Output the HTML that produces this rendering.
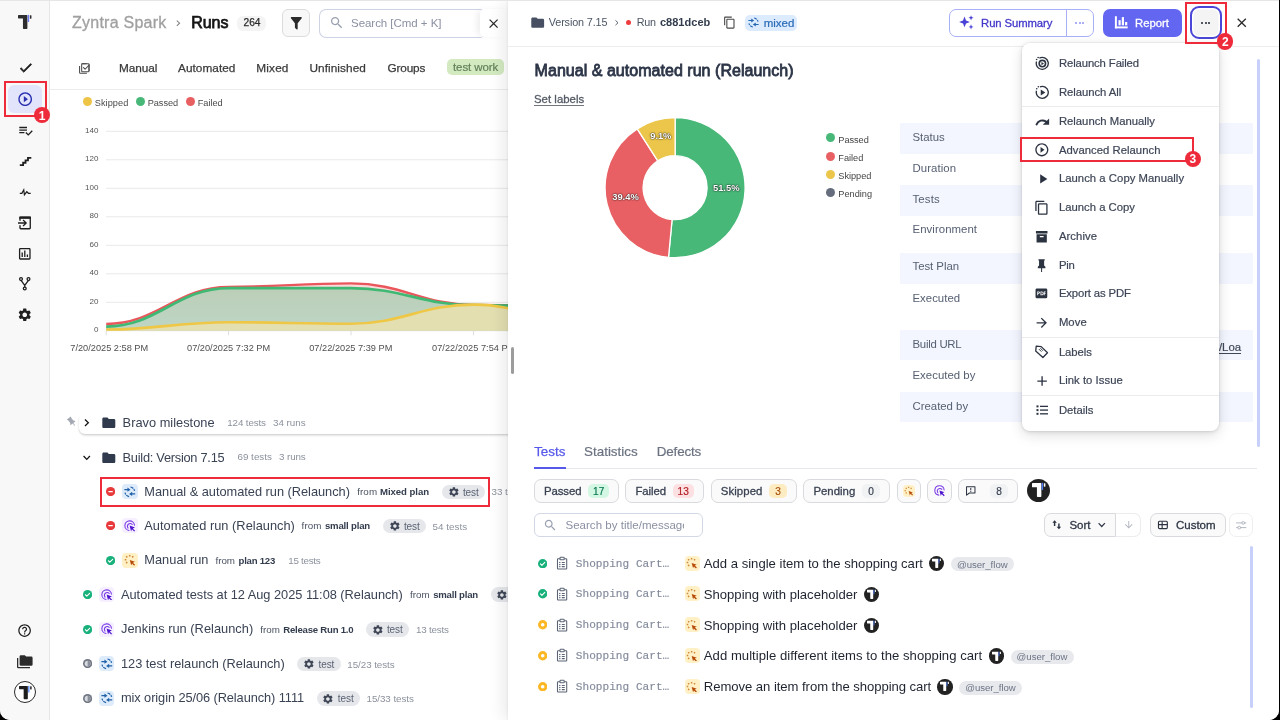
<!DOCTYPE html><html><head><meta charset="utf-8"><title>Runs</title><style>

*{box-sizing:border-box;margin:0;padding:0}
html,body{width:1280px;height:720px;overflow:hidden;background:#000}
body{font-family:"Liberation Sans",sans-serif;position:relative}
#app{position:absolute;left:0;top:0;width:1279px;height:720px;background:#fff;overflow:hidden;border-radius:0 0 10px 10px;will-change:transform}
#app div,#app svg,#app span.t{position:absolute}
span.t{white-space:pre;line-height:20px;height:20px}
.m{font-family:"Liberation Mono",monospace}
b{font-weight:700}

</style></head><body><div id="app">
<div style="left:0px;top:0px;width:50px;height:720px;background:#f8f8f8;border-right:1px solid #e6e6e6"></div>
<svg style="left:18.1px;top:13.7px" width="16.0" height="16.0" viewBox="0 -1 16 16"><path fill="#2e2e2e" d="M0.700 0h8.100a0.600 0.600 0 0 1 0.600 0.600V13.300a0.750 0.750 0 0 1-0.750 0.750H5.700a0.750 0.750 0 0 1-0.750-0.750V3.5H0.700a0.700 0.700 0 0 1-0.700-0.700V0.700a0.700 0.700 0 0 1 0.700-0.700z"/><rect x="9.750" y="-0.100" width="1.400" height="7.100" fill="#6d7cf5"/><rect x="11.900" y="0.200" width="1.550" height="3.500" rx="0.400" fill="#2e2e2e"/></svg>
<svg style="left:17.65px;top:59.85px" width="15.5" height="15.5" viewBox="0 0 24 24"><path fill="#1f1f1f" stroke="#1f1f1f" stroke-width="1.2" d="M9 16.17L4.83 12l-1.42 1.41L9 19 21 7l-1.41-1.41z"/></svg>
<div style="left:7.5px;top:85px;width:34.0px;height:28px;background:#e1e4fb;border-radius:6px"></div>
<svg style="left:16.8px;top:90.8px" width="16.4" height="16.4" viewBox="0 0 24 24"><path fill="#2a2fb0"  d="M10 16.5l6-4.5-6-4.5v9zM12 2C6.48 2 2 6.48 2 12s4.48 10 10 10 10-4.48 10-10S17.52 2 12 2zm0 18c-4.41 0-8-3.59-8-8s3.59-8 8-8 8 3.59 8 8-3.59 8-8 8z"/></svg>
<svg style="left:17.9px;top:122.5px" width="15.4" height="15.4" viewBox="0 0 24 24"><path fill="#1f1f1f"  d="M14 10H2v2h12v-2zm0-4H2v2h12V6zM2 16h8v-2H2v2zm19.5-4.5L23 13l-6.99 7-4.51-4.5L13 14l3.01 3 5.49-5.5z"/></svg>
<svg style="left:18.15px;top:153.75px" width="14.5" height="14.5" viewBox="0 0 24 24"><path fill="#1f1f1f"  d="M15,5V9H11V13H7V17H3V20H10V16H14V12H18V8H22V5H15Z"/></svg>
<svg style="left:17.75px;top:184.75px" width="14.5" height="14.5" viewBox="0 0 24 24"><path fill="#1f1f1f"  d="M3,13H5.79L10.1,4.79L11.28,13.75L14.5,9.66L17.83,13H21V15H17L14.67,12.67L9.92,18.73L8.94,11.31L7,15H3V13Z"/></svg>
<svg style="left:17.0px;top:214.6px" width="16" height="16" viewBox="0 0 24 24"><path fill="none" stroke="#1f1f1f" stroke-width="2" stroke-linejoin="round" d="M4.5 15.2V19.4a1.2 1.2 0 0 0 1.2 1.2h13a1.2 1.2 0 0 0 1.2-1.2V4.6a1.2 1.2 0 0 0-1.2-1.2h-13a1.2 1.2 0 0 0-1.2 1.2V8.8"/><rect x="3.4" y="2.4" width="17.6" height="3.4" fill="#1f1f1f"/><path fill="#1f1f1f" d="M1.5 11h9.8L8.4 8.1l1.4-1.4 5.3 5.3-5.3 5.3-1.4-1.4 2.9-2.9H1.5z"/></svg>
<svg style="left:17.0px;top:245.6px" width="15.6" height="15.6" viewBox="0 0 24 24"><path fill="#1f1f1f"  d="M9 17H7V10H9V17M13 17H11V7H13V17M17 17H15V13H17V17M19 19H5V5H19V19.1M19 3H5C3.9 3 3 3.9 3 5V19C3 20.1 3.9 21 5 21H19C20.1 21 21 20.1 21 19V5C21 3.9 20.1 3 19 3Z"/></svg>
<svg style="left:17.25px;top:276.25px" width="15.5" height="15.5" viewBox="0 0 24 24"><g fill="none" stroke="#1f1f1f" stroke-width="2"><circle cx="6.2" cy="4.8" r="2.2"/><circle cx="17.8" cy="4.8" r="2.2"/><circle cx="12" cy="19.4" r="2.2"/><path d="M6.6 7l5.4 7.4L17.4 7M12 14.2v3"/></g></svg>
<svg style="left:17.45px;top:307.25px" width="15.5" height="15.5" viewBox="0 0 24 24"><path fill="#1f1f1f"  d="M19.14 12.94c.04-.3.06-.61.06-.94 0-.32-.02-.64-.07-.94l2.03-1.58c.18-.14.23-.41.12-.61l-1.92-3.32c-.12-.22-.37-.29-.59-.22l-2.39.96c-.5-.38-1.03-.7-1.62-.94l-.36-2.54c-.04-.24-.24-.41-.48-.41h-3.84c-.24 0-.43.17-.47.41l-.36 2.54c-.59.24-1.13.57-1.62.94l-2.39-.96c-.22-.08-.47 0-.59.22L2.74 8.87c-.12.21-.08.47.12.61l2.03 1.58c-.05.3-.09.63-.09.94s.02.64.07.94l-2.03 1.58c-.18.14-.23.41-.12.61l1.92 3.32c.12.22.37.29.59.22l2.39-.96c.5.38 1.03.7 1.62.94l.36 2.54c.05.24.24.41.48.41h3.84c.24 0 .44-.17.47-.41l.36-2.54c.59-.24 1.13-.56 1.62-.94l2.39.96c.22.08.47 0 .59-.22l1.92-3.32c.12-.22.07-.47-.12-.61l-2.01-1.58zM12 15.6c-1.98 0-3.6-1.62-3.6-3.6s1.62-3.6 3.6-3.6 3.6 1.62 3.6 3.6-1.62 3.6-3.6 3.6z"/></svg>
<svg style="left:17.2px;top:622.8px" width="15.2" height="15.2" viewBox="0 0 24 24"><path fill="#1f1f1f"  d="M11 18h2v-2h-2v2zm1-16C6.48 2 2 6.48 2 12s4.48 10 10 10 10-4.48 10-10S17.52 2 12 2zm0 18c-4.41 0-8-3.59-8-8s3.59-8 8-8 8 3.59 8 8-3.59 8-8 8zm0-14c-2.21 0-4 1.79-4 4h2c0-1.1.9-2 2-2s2 .9 2 2c0 2-3 1.75-3 5h2c0-2.25 3-2.5 3-5 0-2.21-1.79-4-4-4z"/></svg>
<svg style="left:17.4px;top:653.6px" width="15.6" height="15.6" viewBox="0 0 24 24"><path fill="#2b2b2b"  d="M22,4H14L12,2H6A2,2 0 0,0 4,4V16A2,2 0 0,0 6,18H22A2,2 0 0,0 24,16V6A2,2 0 0,0 22,4M2,6H0V11H0V20A2,2 0 0,0 2,22H20V20H2V6Z"/></svg>
<div style="left:14px;top:681.3px;width:22.1px;height:22.100000000000023px;border:1.4px solid #2a2a2a;border-radius:50%;background:#fff"></div>
<svg style="left:18.85px;top:685.36px" width="15.04" height="15.04" viewBox="0 -1 16 16"><path fill="#1d1d1d" d="M0.700 0h8.100a0.600 0.600 0 0 1 0.600 0.600V13.300a0.750 0.750 0 0 1-0.750 0.750H5.700a0.750 0.750 0 0 1-0.750-0.750V3.5H0.700a0.700 0.700 0 0 1-0.700-0.700V0.700a0.700 0.700 0 0 1 0.700-0.700z"/><rect x="9.750" y="-0.100" width="1.400" height="7.100" fill="#5b8bf7"/><rect x="11.900" y="0.200" width="1.550" height="3.500" rx="0.400" fill="#1d1d1d"/></svg>
<span class="t" style="left:72px;top:13px;font-size:16px;color:#a0a0a0;letter-spacing:0.242px;-webkit-text-stroke:0.3px #a0a0a0;">Zyntra Spark</span>
<svg style="left:174.0px;top:19.4px" width="8.4" height="8.4" viewBox="0 0 24 24"><path d="M8 4.5l8 7.5-8 7.5" fill="none" stroke="#7f7f7f" stroke-width="2.9"/></svg>
<span class="t" style="left:191.3px;top:13px;font-size:16px;color:#161616;letter-spacing:-0.090px;-webkit-text-stroke:0.75px #161616;">Runs</span>
<div style="left:237px;top:15.5px;width:29.399999999999977px;height:15.3px;background:#f4f4f4;border-radius:6px"></div>
<span class="t" style="left:243.6px;top:13px;font-size:10.2px;color:#2b2b2b;letter-spacing:-0.133px;-webkit-text-stroke:0.25px #2b2b2b;">264</span>
<div style="left:282.3px;top:9.2px;width:27.399999999999977px;height:27.400000000000002px;background:#f8f8f8;border:1px solid #dcdcdc;border-radius:6px"></div>
<svg style="left:287.7px;top:14.9px" width="16.6" height="16.6" viewBox="0 0 24 24"><path fill="#2a2a2a"  d="M14,12V19.88C14.04,20.18 13.94,20.5 13.71,20.71C13.32,21.1 12.69,21.1 12.3,20.71L10.29,18.7C10.06,18.47 9.96,18.16 10,17.87V12H9.97L4.21,4.62C3.87,4.19 3.95,3.56 4.38,3.22C4.57,3.08 4.78,3 5,3V3H19V3C19.22,3 19.43,3.08 19.62,3.22C20.05,3.56 20.13,4.19 19.79,4.62L14.03,12H14Z"/></svg>
<div style="left:319.2px;top:8.7px;width:164.2px;height:29.099999999999998px;border:1px solid #cdd3e3;border-right:none;border-radius:7px 3px 3px 7px;background:#fff"></div>
<svg style="left:328.5px;top:15.3px" width="15.4" height="15.4" viewBox="0 0 24 24"><path fill="#9aa0b1"  d="M15.5 14h-.79l-.28-.27C15.41 12.59 16 11.11 16 9.5 16 5.91 13.09 3 9.5 3S3 5.91 3 9.5 5.91 16 9.5 16c1.61 0 3.09-.59 4.23-1.57l.27.28v.79l5 4.99L20.49 19l-4.99-5zm-6 0C7.01 14 5 11.99 5 9.5S7.01 5 9.5 5 14 7.01 14 9.5 11.99 14 9.5 14z"/></svg>
<span class="t" style="left:351px;top:13px;font-size:11.5px;color:#8b90a2;letter-spacing:-0.037px;">Search [Cmd + K]</span>
<div style="left:480px;top:9px;width:30px;height:28.4px;background:#fff;border-radius:5px;box-shadow:-5px 0 6px -2px rgba(0,0,0,.07)"></div>
<svg style="left:486.0px;top:15.5px" width="15.2" height="15.2" viewBox="0 0 24 24"><path fill="#2b2b2b"  d="M19 6.41L17.59 5 12 10.59 6.41 5 5 6.41 10.59 12 5 17.59 6.41 19 12 13.41 17.59 19 19 17.59 13.41 12z"/></svg>
<svg style="left:77.5px;top:61.5px" width="12.6" height="12.6" viewBox="0 0 24 24"><g fill="none" stroke="#4a4a4a" stroke-width="2" stroke-linejoin="round"><path d="M7 3.5h12.5a1.5 1.5 0 0 1 1.5 1.5V17"/><path d="M21 6v11a1.5 1.5 0 0 1-1.5 1.5H8.5A1.5 1.5 0 0 1 7 17V5a1.5 1.5 0 0 1 1.5-1.5H16" /><path d="M3 7.5V20a1.5 1.5 0 0 0 1.500 1.500H17"/><path d="M10.500 10.800l3 3L21.500 5.500" stroke-linecap="round"/></g></svg>
<span class="t" style="left:119px;top:58px;font-size:11.8px;color:#3a3a3a;letter-spacing:-0.051px;-webkit-text-stroke:0.25px #3a3a3a;">Manual</span>
<span class="t" style="left:178px;top:58px;font-size:11.8px;color:#3a3a3a;letter-spacing:0.038px;-webkit-text-stroke:0.25px #3a3a3a;">Automated</span>
<span class="t" style="left:256.3px;top:58px;font-size:11.8px;color:#3a3a3a;letter-spacing:0.166px;-webkit-text-stroke:0.25px #3a3a3a;">Mixed</span>
<span class="t" style="left:309.4px;top:58px;font-size:11.8px;color:#3a3a3a;letter-spacing:0.085px;-webkit-text-stroke:0.25px #3a3a3a;">Unfinished</span>
<span class="t" style="left:387.5px;top:58px;font-size:11.8px;color:#3a3a3a;letter-spacing:-0.165px;-webkit-text-stroke:0.25px #3a3a3a;">Groups</span>
<div style="left:447.2px;top:59.4px;width:57.0px;height:16.000000000000007px;background:#d3eac1;border-radius:5px"></div>
<span class="t" style="left:453px;top:57px;font-size:11.5px;color:#63805a;letter-spacing:-0.080px;-webkit-text-stroke:0.2px #63805a;">test work</span>
<div style="left:50px;top:89px;width:458px;height:1px;background:#ececec"></div>
<svg style="left:0;top:0" width="508" height="400" viewBox="0 0 508 400"><defs><linearGradient id="gg" x1="0" y1="0" x2="0" y2="1"><stop offset="0" stop-color="#bbceb7"/><stop offset="1" stop-color="#bed6c6"/></linearGradient></defs><line x1="106" x2="520" y1="330.8" y2="330.8" stroke="#e9e9e9" stroke-width="1"/><line x1="106" x2="520" y1="302.3" y2="302.3" stroke="#e9e9e9" stroke-width="1"/><line x1="106" x2="520" y1="273.8" y2="273.8" stroke="#e9e9e9" stroke-width="1"/><line x1="106" x2="520" y1="245.3" y2="245.3" stroke="#e9e9e9" stroke-width="1"/><line x1="106" x2="520" y1="216.8" y2="216.8" stroke="#e9e9e9" stroke-width="1"/><line x1="106" x2="520" y1="188.3" y2="188.3" stroke="#e9e9e9" stroke-width="1"/><line x1="106" x2="520" y1="159.8" y2="159.8" stroke="#e9e9e9" stroke-width="1"/><line x1="106" x2="520" y1="131.3" y2="131.3" stroke="#e9e9e9" stroke-width="1"/><line x1="106.2" x2="106.2" y1="330.8" y2="335.3" stroke="#dedede" stroke-width="1"/><line x1="228.5" x2="228.5" y1="330.8" y2="335.3" stroke="#dedede" stroke-width="1"/><line x1="351" x2="351" y1="330.8" y2="335.3" stroke="#dedede" stroke-width="1"/><line x1="473.5" x2="473.5" y1="330.8" y2="335.3" stroke="#dedede" stroke-width="1"/><path d="M106.2 323.96 C157.6 323.96 177.1 286.91 228.5 286.91 C279.9 286.91 299.6 283.35 351 283.35 C402.4 283.35 422.1 304.87 473.5 304.87 C525.0 304.87 544.5 306.57 596 306.57 L596 330.8 L106.2 330.8 Z" fill="rgba(233,87,92,0.22)"/><path d="M106.2 323.96 C157.6 323.96 177.1 286.91 228.5 286.91 C279.9 286.91 299.6 283.35 351 283.35 C402.4 283.35 422.1 304.87 473.5 304.87 C525.0 304.87 544.5 306.57 596 306.57" fill="none" stroke="#e9575c" stroke-width="2.4" stroke-linecap="butt"/><path d="M106.2 326.53 C157.6 326.53 177.1 288.05 228.5 288.05 C279.9 288.05 299.6 288.05 351 288.05 C402.4 288.05 422.1 305.15 473.5 305.15 C525.0 305.15 544.5 307.29 596 307.29 L596 330.8 L106.2 330.8 Z" fill="url(#gg)"/><path d="M106.2 326.53 C157.6 326.53 177.1 288.05 228.5 288.05 C279.9 288.05 299.6 288.05 351 288.05 C402.4 288.05 422.1 305.15 473.5 305.15 C525.0 305.15 544.5 307.29 596 307.29" fill="none" stroke="#3fb873" stroke-width="2.7" stroke-linecap="butt"/><path d="M106.2 329.52 C157.6 329.52 177.1 322.25 228.5 322.25 C279.9 322.25 299.6 323.68 351 323.68 C402.4 323.68 422.1 304.58 473.5 304.58 C525.0 304.58 544.5 326.53 596 326.53 L596 330.8 L106.2 330.8 Z" fill="#e4dfb1"/><path d="M106.2 329.52 C157.6 329.52 177.1 322.25 228.5 322.25 C279.9 322.25 299.6 323.68 351 323.68 C402.4 323.68 422.1 304.58 473.5 304.58 C525.0 304.58 544.5 326.53 596 326.53" fill="none" stroke="#efc746" stroke-width="2.6" stroke-linecap="butt"/></svg>
<div style="left:82.8px;top:96.9px;width:9.400000000000006px;height:9.399999999999991px;background:#eec447;border-radius:50%"></div>
<span class="t" style="left:94.8px;top:93px;font-size:9.2px;color:#4a4a4a;letter-spacing:0.042px;">Skipped</span>
<div style="left:135.60000000000002px;top:96.9px;width:9.399999999999977px;height:9.399999999999991px;background:#48b878;border-radius:50%"></div>
<span class="t" style="left:147.7px;top:93px;font-size:9.2px;color:#4a4a4a;letter-spacing:-0.026px;">Passed</span>
<div style="left:185.9px;top:96.9px;width:9.399999999999977px;height:9.399999999999991px;background:#e85f62;border-radius:50%"></div>
<span class="t" style="left:197.8px;top:93px;font-size:9.2px;color:#4a4a4a;letter-spacing:-0.039px;">Failed</span>
<span class="t" style="left:93.95px;top:320px;font-size:8.0px;color:#555;letter-spacing:-0.003px;">0</span>
<span class="t" style="left:89.5px;top:292px;font-size:8.0px;color:#555;letter-spacing:-0.003px;">20</span>
<span class="t" style="left:89.5px;top:263px;font-size:8.0px;color:#555;letter-spacing:-0.003px;">40</span>
<span class="t" style="left:89.5px;top:235px;font-size:8.0px;color:#555;letter-spacing:-0.003px;">60</span>
<span class="t" style="left:89.5px;top:206px;font-size:8.0px;color:#555;letter-spacing:-0.003px;">80</span>
<span class="t" style="left:85.05px;top:178px;font-size:8.0px;color:#555;letter-spacing:-0.003px;">100</span>
<span class="t" style="left:85.05px;top:149px;font-size:8.0px;color:#555;letter-spacing:-0.003px;">120</span>
<span class="t" style="left:85.05px;top:121px;font-size:8.0px;color:#555;letter-spacing:-0.003px;">140</span>
<span class="t" style="left:70.3px;top:338px;font-size:9.2px;color:#4f4f4f;letter-spacing:0.014px;">7/20/2025 2:58 PM</span>
<span class="t" style="left:187px;top:338px;font-size:9.2px;color:#4f4f4f;letter-spacing:0.024px;">07/20/2025 7:32 PM</span>
<span class="t" style="left:309.2px;top:338px;font-size:9.2px;color:#4f4f4f;letter-spacing:0.024px;">07/22/2025 7:39 PM</span>
<span class="t" style="left:432px;top:338px;font-size:9.2px;color:#4f4f4f;letter-spacing:0.035px;">07/22/2025 7:54 PM</span>
<div style="left:79px;top:412.5px;width:441px;height:21.5px;background:#fff;border-radius:6px 0 0 6px;box-shadow:0 2px 3px -1px rgba(0,0,0,.20),-1px 1px 2px -1px rgba(0,0,0,.12)"></div>
<svg style="left:66.2px;top:416.2px" width="11.6" height="11.6" viewBox="0 0 24 24"><path fill="#a3a8b3" transform="rotate(-38 12 12)" d="M16,12V4H17V2H7V4H8V12L6,14V16H11.2V22H12.8V16H18V14L16,12Z"/></svg>
<svg style="left:82.25px;top:418.45px" width="9.5" height="9.5" viewBox="0 0 24 24"><path d="M7.5 4l8.5 8-8.5 8" fill="none" stroke="#111" stroke-width="3.2"/></svg>
<svg style="left:100.7px;top:415.2px" width="15.6" height="15.6" viewBox="0 0 24 24"><path fill="#2f3a4d"  d="M10 4H4c-1.1 0-1.99.9-1.99 2L2 18c0 1.1.9 2 2 2h16c1.1 0 2-.9 2-2V8c0-1.1-.9-2-2-2h-8l-2-2z"/></svg>
<span class="t" style="left:122.6px;top:413px;font-size:12.8px;color:#3a4354;letter-spacing:0.016px;">Bravo milestone</span>
<span class="t" style="left:227.3px;top:413px;font-size:9.8px;color:#8c919d;letter-spacing:-0.141px;">124 tests</span>
<span class="t" style="left:273px;top:413px;font-size:9.8px;color:#8c919d;letter-spacing:-0.012px;">34 runs</span>
<svg style="left:82.25px;top:453.25px" width="9.5" height="9.5" viewBox="0 0 24 24"><path d="M4 7.500l8 8.500 8-8.500" fill="none" stroke="#111" stroke-width="3.2"/></svg>
<svg style="left:100.7px;top:449.6px" width="15.6" height="15.6" viewBox="0 0 24 24"><path fill="#2f3a4d"  d="M10 4H4c-1.1 0-1.99.9-1.99 2L2 18c0 1.1.9 2 2 2h16c1.1 0 2-.9 2-2V8c0-1.1-.9-2-2-2h-8l-2-2z"/></svg>
<span class="t" style="left:122.6px;top:448px;font-size:12.8px;color:#3a4354;letter-spacing:-0.259px;">Build: Version 7.15</span>
<span class="t" style="left:237.4px;top:447px;font-size:9.8px;color:#8c919d;letter-spacing:0.036px;">69 tests</span>
<span class="t" style="left:279.1px;top:447px;font-size:9.8px;color:#8c919d;letter-spacing:-0.122px;">3 runs</span>
<svg style="left:106.2px;top:487.2px" width="9.2" height="9.2" viewBox="0 0 24 24"><circle cx="12" cy="12" r="12" fill="#e8393c"/><rect x="6" y="10.500" width="12" height="3" rx="1" fill="#fff"/></svg>
<div style="left:122.4px;top:484.2px;width:15.199999999999989px;height:15.199999999999989px;background:#deebfb;border-radius:4px"></div>
<svg style="left:124.2px;top:486.0px" width="11.6" height="11.6" viewBox="0 0 24 24"><g fill="none" stroke="#1f62a8" stroke-width="2.5" stroke-dasharray="6.6 1.7"><path d="M13.4 2.1A10 10 0 0 1 21.9 10.2"/><path d="M10.6 21.9A10 10 0 0 1 2.1 13.8"/></g><g fill="#1f62a8"><path d="M0.8 6.3h6.300V3.100l6.300 4.500-6.300 4.500V8.900H0.800z"/><path d="M23.200 15.100h-6.300v-3.200l-6.300 4.500 6.300 4.500v-3.200h6.300z"/></g></svg>
<span class="t" style="left:144.3px;top:482px;font-size:12.8px;color:#3a4354;letter-spacing:-0.021px;">Manual &amp; automated run (Relaunch)</span>
<span class="t" style="left:357.2px;top:482px;font-size:9.8px;color:#4b5362;letter-spacing:0.098px;">from</span>
<span class="t" style="left:380px;top:482px;font-size:9.6px;color:#333c4d;font-weight:700;letter-spacing:-0.058px;">Mixed plan</span>
<div style="left:441.8px;top:484.6px;width:42.89999999999998px;height:14.399999999999977px;background:#e5e7eb;border-radius:8px"></div>
<svg style="left:447.5px;top:485.9px" width="11.8" height="11.8" viewBox="0 0 24 24"><path fill="#3f4757"  d="M19.14 12.94c.04-.3.06-.61.06-.94 0-.32-.02-.64-.07-.94l2.03-1.58c.18-.14.23-.41.12-.61l-1.92-3.32c-.12-.22-.37-.29-.59-.22l-2.39.96c-.5-.38-1.03-.7-1.62-.94l-.36-2.54c-.04-.24-.24-.41-.48-.41h-3.84c-.24 0-.43.17-.47.41l-.36 2.54c-.59.24-1.13.57-1.62.94l-2.39-.96c-.22-.08-.47 0-.59.22L2.74 8.87c-.12.21-.08.47.12.61l2.03 1.58c-.05.3-.09.63-.09.94s.02.64.07.94l-2.03 1.58c-.18.14-.23.41-.12.61l1.92 3.32c.12.22.37.29.59.22l2.39-.96c.5.38 1.03.7 1.62.94l.36 2.54c.05.24.24.41.48.41h3.84c.24 0 .44-.17.47-.41l.36-2.54c.59-.24 1.13-.56 1.62-.94l2.39.96c.22.08.47 0 .59-.22l1.92-3.32c.12-.22.07-.47-.12-.61l-2.01-1.58zM12 15.6c-1.98 0-3.6-1.62-3.6-3.6s1.62-3.6 3.6-3.6 3.6 1.62 3.6 3.6-1.62 3.6-3.6 3.6z"/></svg>
<span class="t" style="left:462.90000000000003px;top:483px;font-size:10px;color:#5a6272;letter-spacing:-0.081px;">test</span>
<span class="t" style="left:491.6px;top:482px;font-size:9.8px;color:#8c919d;letter-spacing:-0.064px;">33 tests</span>
<svg style="left:106.2px;top:521.2px" width="9.2" height="9.2" viewBox="0 0 24 24"><circle cx="12" cy="12" r="12" fill="#e8393c"/><rect x="6" y="10.500" width="12" height="3" rx="1" fill="#fff"/></svg>
<div style="left:122.4px;top:518.2px;width:15.199999999999989px;height:15.199999999999932px;background:#f5efff;border-radius:4px"></div>
<svg style="left:124.1px;top:519.9px" width="11.8" height="11.8" viewBox="0 0 24 24"><g fill="none" stroke="#7a3be6" stroke-width="2.2" stroke-linecap="round"><path d="M10.200 21.300A9.800 9.800 0 1 1 21.300 10.600"/><path d="M8.200 16.400A5.500 5.500 0 1 1 16.600 9.200"/></g><path fill="#4f14cf" d="M11.400 11.400l10.800 4-4.300 1.700 4.600 4.600-1.800 1.800-4.600-4.600-1.700 4.300z"/></svg>
<span class="t" style="left:144.3px;top:516px;font-size:12.8px;color:#3a4354;letter-spacing:0.021px;">Automated run (Relaunch)</span>
<span class="t" style="left:301.6px;top:516px;font-size:9.8px;color:#4b5362;letter-spacing:0.098px;">from</span>
<span class="t" style="left:324.9px;top:516px;font-size:9.6px;color:#333c4d;font-weight:700;letter-spacing:-0.182px;">small plan</span>
<div style="left:382.8px;top:518.8px;width:43.0px;height:14.400000000000091px;background:#e5e7eb;border-radius:8px"></div>
<svg style="left:388.5px;top:520.1px" width="11.8" height="11.8" viewBox="0 0 24 24"><path fill="#3f4757"  d="M19.14 12.94c.04-.3.06-.61.06-.94 0-.32-.02-.64-.07-.94l2.03-1.58c.18-.14.23-.41.12-.61l-1.92-3.32c-.12-.22-.37-.29-.59-.22l-2.39.96c-.5-.38-1.03-.7-1.62-.94l-.36-2.54c-.04-.24-.24-.41-.48-.41h-3.84c-.24 0-.43.17-.47.41l-.36 2.54c-.59.24-1.13.57-1.62.94l-2.39-.96c-.22-.08-.47 0-.59.22L2.74 8.87c-.12.21-.08.47.12.61l2.03 1.58c-.05.3-.09.63-.09.94s.02.64.07.94l-2.03 1.58c-.18.14-.23.41-.12.61l1.92 3.32c.12.22.37.29.59.22l2.39-.96c.5.38 1.03.7 1.62.94l.36 2.54c.05.24.24.41.48.41h3.84c.24 0 .44-.17.47-.41l.36-2.54c.59-.24 1.13-.56 1.62-.94l2.39.96c.22.08.47 0 .59-.22l1.92-3.32c.12-.22.07-.47-.12-.61l-2.01-1.58zM12 15.6c-1.98 0-3.6-1.62-3.6-3.6s1.62-3.6 3.6-3.6 3.6 1.62 3.6 3.6-1.62 3.6-3.6 3.6z"/></svg>
<span class="t" style="left:403.90000000000003px;top:517px;font-size:10px;color:#5a6272;letter-spacing:-0.081px;">test</span>
<span class="t" style="left:432.6px;top:517px;font-size:9.8px;color:#8c919d;letter-spacing:0.023px;">54 tests</span>
<svg style="left:106.2px;top:555.6px" width="9.2" height="9.2" viewBox="0 0 24 24"><circle cx="12" cy="12" r="12" fill="#18b07b"/><path d="M6.3 12.4l3.7 3.7 7.4-7.6" fill="none" stroke="#fff" stroke-width="2.8" stroke-linecap="round" stroke-linejoin="round"/></svg>
<div style="left:122.4px;top:552.6px;width:15.199999999999989px;height:15.199999999999932px;background:#fff0c6;border-radius:4px"></div>
<svg style="left:124.1px;top:554.3px" width="11.8" height="11.8" viewBox="0 0 24 24"><path fill="#b74a06" d="M11.800 12.200l10.400 3.800-4 1.600 4.300 4.300-1.900 1.900-4.300-4.300-1.600 4z"/><g stroke="#cf8a3c" stroke-width="3.100"><path d="M11.600 2v3.200M4.400 4.600l2.300 2.300M18.900 4.600l-2.300 2.300M1.500 11.500h3.200M4.300 18.600l2.300-2.300"/></g></svg>
<span class="t" style="left:144.3px;top:550px;font-size:12.8px;color:#3a4354;letter-spacing:0.017px;">Manual run</span>
<span class="t" style="left:215.5px;top:551px;font-size:9.8px;color:#4b5362;letter-spacing:-0.052px;">from</span>
<span class="t" style="left:238.5px;top:551px;font-size:9.6px;color:#333c4d;font-weight:700;letter-spacing:-0.226px;">plan 123</span>
<span class="t" style="left:288.3px;top:551px;font-size:9.8px;color:#8c919d;letter-spacing:-0.277px;">15 tests</span>
<svg style="left:82.8px;top:589.8px" width="9.2" height="9.2" viewBox="0 0 24 24"><circle cx="12" cy="12" r="12" fill="#18b07b"/><path d="M6.3 12.4l3.7 3.7 7.4-7.6" fill="none" stroke="#fff" stroke-width="2.8" stroke-linecap="round" stroke-linejoin="round"/></svg>
<div style="left:99.2px;top:586.8px;width:15.200000000000003px;height:15.200000000000045px;background:#f5efff;border-radius:4px"></div>
<svg style="left:100.9px;top:588.5px" width="11.8" height="11.8" viewBox="0 0 24 24"><g fill="none" stroke="#7a3be6" stroke-width="2.2" stroke-linecap="round"><path d="M10.200 21.300A9.800 9.800 0 1 1 21.300 10.600"/><path d="M8.200 16.400A5.500 5.500 0 1 1 16.600 9.200"/></g><path fill="#4f14cf" d="M11.400 11.400l10.800 4-4.300 1.700 4.600 4.600-1.800 1.800-4.600-4.600-1.700 4.300z"/></svg>
<span class="t" style="left:121px;top:585px;font-size:12.8px;color:#3a4354;letter-spacing:-0.026px;">Automated tests at 12 Aug 2025 11:08 (Relaunch)</span>
<span class="t" style="left:410px;top:585px;font-size:9.8px;color:#4b5362;letter-spacing:0.048px;">from</span>
<span class="t" style="left:433.2px;top:585px;font-size:9.6px;color:#333c4d;font-weight:700;letter-spacing:-0.222px;">small plan</span>
<div style="left:490.7px;top:587.4px;width:43.00000000000006px;height:14.400000000000091px;background:#e5e7eb;border-radius:8px"></div>
<svg style="left:496.4px;top:588.7px" width="11.8" height="11.8" viewBox="0 0 24 24"><path fill="#3f4757"  d="M19.14 12.94c.04-.3.06-.61.06-.94 0-.32-.02-.64-.07-.94l2.03-1.58c.18-.14.23-.41.12-.61l-1.92-3.32c-.12-.22-.37-.29-.59-.22l-2.39.96c-.5-.38-1.03-.7-1.62-.94l-.36-2.54c-.04-.24-.24-.41-.48-.41h-3.84c-.24 0-.43.17-.47.41l-.36 2.54c-.59.24-1.13.57-1.62.94l-2.39-.96c-.22-.08-.47 0-.59.22L2.74 8.87c-.12.21-.08.47.12.61l2.03 1.58c-.05.3-.09.63-.09.94s.02.64.07.94l-2.03 1.58c-.18.14-.23.41-.12.61l1.92 3.32c.12.22.37.29.59.22l2.39-.96c.5.38 1.03.7 1.62.94l.36 2.54c.05.24.24.41.48.41h3.84c.24 0 .44-.17.47-.41l.36-2.54c.59-.24 1.13-.56 1.62-.94l2.39.96c.22.08.47 0 .59-.22l1.92-3.32c.12-.22.07-.47-.12-.61l-2.01-1.58zM12 15.6c-1.98 0-3.6-1.62-3.6-3.6s1.62-3.6 3.6-3.6 3.6 1.62 3.6 3.6-1.62 3.6-3.6 3.6z"/></svg>
<span class="t" style="left:511.8px;top:585px;font-size:10px;color:#5a6272;letter-spacing:-0.081px;">test</span>
<svg style="left:82.8px;top:624.6px" width="9.2" height="9.2" viewBox="0 0 24 24"><circle cx="12" cy="12" r="12" fill="#18b07b"/><path d="M6.3 12.4l3.7 3.7 7.4-7.6" fill="none" stroke="#fff" stroke-width="2.8" stroke-linecap="round" stroke-linejoin="round"/></svg>
<div style="left:99.2px;top:621.6px;width:15.200000000000003px;height:15.199999999999932px;background:#f5efff;border-radius:4px"></div>
<svg style="left:100.9px;top:623.3px" width="11.8" height="11.8" viewBox="0 0 24 24"><g fill="none" stroke="#7a3be6" stroke-width="2.2" stroke-linecap="round"><path d="M10.200 21.300A9.800 9.800 0 1 1 21.300 10.600"/><path d="M8.200 16.400A5.500 5.500 0 1 1 16.600 9.200"/></g><path fill="#4f14cf" d="M11.400 11.400l10.800 4-4.300 1.700 4.600 4.600-1.800 1.800-4.600-4.600-1.700 4.300z"/></svg>
<span class="t" style="left:121px;top:619px;font-size:12.8px;color:#3a4354;letter-spacing:0.028px;">Jenkins run (Relaunch)</span>
<span class="t" style="left:260.2px;top:620px;font-size:9.8px;color:#4b5362;letter-spacing:0.073px;">from</span>
<span class="t" style="left:283.2px;top:620px;font-size:9.6px;color:#333c4d;font-weight:700;letter-spacing:-0.226px;">Release Run 1.0</span>
<div style="left:365.8px;top:622.1999999999999px;width:43.30000000000001px;height:14.400000000000091px;background:#e5e7eb;border-radius:8px"></div>
<svg style="left:371.5px;top:623.5px" width="11.8" height="11.8" viewBox="0 0 24 24"><path fill="#3f4757"  d="M19.14 12.94c.04-.3.06-.61.06-.94 0-.32-.02-.64-.07-.94l2.03-1.58c.18-.14.23-.41.12-.61l-1.92-3.32c-.12-.22-.37-.29-.59-.22l-2.39.96c-.5-.38-1.03-.7-1.62-.94l-.36-2.54c-.04-.24-.24-.41-.48-.41h-3.84c-.24 0-.43.17-.47.41l-.36 2.54c-.59.24-1.13.57-1.62.94l-2.39-.96c-.22-.08-.47 0-.59.22L2.74 8.87c-.12.21-.08.47.12.61l2.03 1.58c-.05.3-.09.63-.09.94s.02.64.07.94l-2.03 1.58c-.18.14-.23.41-.12.61l1.92 3.32c.12.22.37.29.59.22l2.39-.96c.5.38 1.03.7 1.62.94l.36 2.54c.05.24.24.41.48.41h3.84c.24 0 .44-.17.47-.41l.36-2.54c.59-.24 1.13-.56 1.62-.94l2.39.96c.22.08.47 0 .59-.22l1.92-3.32c.12-.22.07-.47-.12-.61l-2.01-1.58zM12 15.6c-1.98 0-3.6-1.62-3.6-3.6s1.62-3.6 3.6-3.6 3.6 1.62 3.6 3.6-1.62 3.6-3.6 3.6z"/></svg>
<span class="t" style="left:386.90000000000003px;top:620px;font-size:10px;color:#5a6272;letter-spacing:-0.081px;">test</span>
<span class="t" style="left:416px;top:620px;font-size:9.8px;color:#8c919d;letter-spacing:-0.202px;">13 tests</span>
<svg style="left:82.8px;top:659.2px" width="9.2" height="9.2" viewBox="0 0 24 24"><circle cx="12" cy="12" r="12" fill="#717784"/><circle cx="12" cy="12" r="7.6" fill="#d6d9de"/><path d="M12 4.4a7.6 7.6 0 0 1 0 15.2z" fill="#8b909b"/></svg>
<div style="left:99.2px;top:656.2px;width:15.200000000000003px;height:15.199999999999932px;background:#deebfb;border-radius:4px"></div>
<svg style="left:101.0px;top:658.0px" width="11.6" height="11.6" viewBox="0 0 24 24"><g fill="none" stroke="#1f62a8" stroke-width="2.5" stroke-dasharray="6.6 1.7"><path d="M13.4 2.1A10 10 0 0 1 21.9 10.2"/><path d="M10.6 21.9A10 10 0 0 1 2.1 13.8"/></g><g fill="#1f62a8"><path d="M0.8 6.3h6.300V3.100l6.300 4.500-6.300 4.500V8.900H0.800z"/><path d="M23.200 15.100h-6.300v-3.200l-6.300 4.500 6.300 4.500v-3.200h6.300z"/></g></svg>
<span class="t" style="left:121px;top:654px;font-size:12.8px;color:#3a4354;letter-spacing:-0.022px;">123 test relaunch (Relaunch)</span>
<div style="left:297.4px;top:656.8px;width:43.30000000000001px;height:14.400000000000091px;background:#e5e7eb;border-radius:8px"></div>
<svg style="left:303.1px;top:658.1px" width="11.8" height="11.8" viewBox="0 0 24 24"><path fill="#3f4757"  d="M19.14 12.94c.04-.3.06-.61.06-.94 0-.32-.02-.64-.07-.94l2.03-1.58c.18-.14.23-.41.12-.61l-1.92-3.32c-.12-.22-.37-.29-.59-.22l-2.39.96c-.5-.38-1.03-.7-1.62-.94l-.36-2.54c-.04-.24-.24-.41-.48-.41h-3.84c-.24 0-.43.17-.47.41l-.36 2.54c-.59.24-1.13.57-1.62.94l-2.39-.96c-.22-.08-.47 0-.59.22L2.74 8.87c-.12.21-.08.47.12.61l2.03 1.58c-.05.3-.09.63-.09.94s.02.64.07.94l-2.03 1.58c-.18.14-.23.41-.12.61l1.92 3.32c.12.22.37.29.59.22l2.39-.96c.5.38 1.03.7 1.62.94l.36 2.54c.05.24.24.41.48.41h3.84c.24 0 .44-.17.47-.41l.36-2.54c.59-.24 1.13-.56 1.62-.94l2.39.96c.22.08.47 0 .59-.22l1.92-3.32c.12-.22.07-.47-.12-.61l-2.01-1.58zM12 15.6c-1.98 0-3.6-1.62-3.6-3.6s1.62-3.6 3.6-3.6 3.6 1.62 3.6 3.6-1.62 3.6-3.6 3.6z"/></svg>
<span class="t" style="left:318.5px;top:655px;font-size:10px;color:#5a6272;letter-spacing:-0.081px;">test</span>
<span class="t" style="left:347.3px;top:655px;font-size:9.8px;color:#8c919d;letter-spacing:-0.058px;">15/23 tests</span>
<svg style="left:82.8px;top:693.6px" width="9.2" height="9.2" viewBox="0 0 24 24"><circle cx="12" cy="12" r="12" fill="#717784"/><circle cx="12" cy="12" r="7.6" fill="#d6d9de"/><path d="M12 4.4a7.6 7.6 0 0 1 0 15.2z" fill="#8b909b"/></svg>
<div style="left:99.2px;top:690.6px;width:15.200000000000003px;height:15.199999999999932px;background:#deebfb;border-radius:4px"></div>
<svg style="left:101.0px;top:692.4px" width="11.6" height="11.6" viewBox="0 0 24 24"><g fill="none" stroke="#1f62a8" stroke-width="2.5" stroke-dasharray="6.6 1.7"><path d="M13.4 2.1A10 10 0 0 1 21.9 10.2"/><path d="M10.6 21.9A10 10 0 0 1 2.1 13.8"/></g><g fill="#1f62a8"><path d="M0.8 6.3h6.300V3.100l6.300 4.500-6.300 4.500V8.900H0.800z"/><path d="M23.200 15.100h-6.300v-3.200l-6.300 4.500 6.300 4.500v-3.200h6.300z"/></g></svg>
<span class="t" style="left:121px;top:688px;font-size:12.8px;color:#3a4354;letter-spacing:-0.083px;">mix origin 25/06 (Relaunch) 1111</span>
<div style="left:316.7px;top:691.1999999999999px;width:43.10000000000002px;height:14.400000000000091px;background:#e5e7eb;border-radius:8px"></div>
<svg style="left:322.4px;top:692.5px" width="11.8" height="11.8" viewBox="0 0 24 24"><path fill="#3f4757"  d="M19.14 12.94c.04-.3.06-.61.06-.94 0-.32-.02-.64-.07-.94l2.03-1.58c.18-.14.23-.41.12-.61l-1.92-3.32c-.12-.22-.37-.29-.59-.22l-2.39.96c-.5-.38-1.03-.7-1.62-.94l-.36-2.54c-.04-.24-.24-.41-.48-.41h-3.84c-.24 0-.43.17-.47.41l-.36 2.54c-.59.24-1.13.57-1.62.94l-2.39-.96c-.22-.08-.47 0-.59.22L2.74 8.87c-.12.21-.08.47.12.61l2.03 1.58c-.05.3-.09.63-.09.94s.02.64.07.94l-2.03 1.58c-.18.14-.23.41-.12.61l1.92 3.32c.12.22.37.29.59.22l2.39-.96c.5.38 1.03.7 1.62.94l.36 2.54c.05.24.24.41.48.41h3.84c.24 0 .44-.17.47-.41l.36-2.54c.59-.24 1.13-.56 1.62-.94l2.39.96c.22.08.47 0 .59-.22l1.92-3.32c.12-.22.07-.47-.12-.61l-2.01-1.58zM12 15.6c-1.98 0-3.6-1.62-3.6-3.6s1.62-3.6 3.6-3.6 3.6 1.62 3.6 3.6-1.62 3.6-3.6 3.6z"/></svg>
<span class="t" style="left:337.8px;top:689px;font-size:10px;color:#5a6272;letter-spacing:-0.081px;">test</span>
<span class="t" style="left:366.5px;top:689px;font-size:9.8px;color:#8c919d;letter-spacing:-0.058px;">15/33 tests</span>
<div style="left:508px;top:1px;width:771px;height:719px;background:#fff;box-shadow:-6px 0 14px rgba(0,0,0,.075),-1px 0 2px rgba(0,0,0,.05)"></div>
<div style="left:510.6px;top:346.5px;width:3.6000000000000227px;height:27.100000000000023px;background:#9c9c9c;border-radius:2px"></div>
<div style="left:508px;top:45.6px;width:771px;height:1.0px;background:#ededed"></div>
<svg style="left:530.0px;top:15.1px" width="15.4" height="15.4" viewBox="0 0 24 24"><path fill="#465062"  d="M10 4H4c-1.1 0-1.99.9-1.99 2L2 18c0 1.1.9 2 2 2h16c1.1 0 2-.9 2-2V8c0-1.1-.9-2-2-2h-8l-2-2z"/></svg>
<span class="t" style="left:548.8px;top:12px;font-size:10.8px;color:#4b5565;letter-spacing:-0.128px;">Version 7.15</span>
<svg style="left:612.75px;top:19.45px" width="7.5" height="7.5" viewBox="0 0 24 24"><path d="M8 4.500l8 7.500-8 7.500" fill="none" stroke="#4b5565" stroke-width="3"/></svg>
<div style="left:625.8px;top:20.1px;width:5.400000000000091px;height:5.399999999999999px;background:#ef3b3b;border-radius:50%"></div>
<span class="t" style="left:636.7px;top:12px;font-size:10.8px;color:#4b5565;letter-spacing:-0.304px;">Run</span>
<span class="t" style="left:659.9px;top:12px;font-size:11px;color:#333c4d;font-weight:700;letter-spacing:0.043px;">c881dceb</span>
<svg style="left:722.6px;top:16.4px" width="13.2" height="13.2" viewBox="0 0 24 24"><path fill="#4a4a4a"  d="M16 1H4c-1.1 0-2 .9-2 2v14h2V3h12V1zm3 4H8c-1.1 0-2 .9-2 2v14c0 1.1.9 2 2 2h11c1.1 0 2-.9 2-2V7c0-1.1-.9-2-2-2zm0 16H8V7h11v14z"/></svg>
<div style="left:745px;top:15.2px;width:52.200000000000045px;height:15.400000000000002px;background:#dcebfd;border-radius:5px"></div>
<svg style="left:748.3px;top:17.4px" width="11" height="11" viewBox="0 0 24 24"><g fill="none" stroke="#2467b3" stroke-width="2.5" stroke-dasharray="6.6 1.7"><path d="M13.4 2.1A10 10 0 0 1 21.9 10.2"/><path d="M10.6 21.9A10 10 0 0 1 2.1 13.8"/></g><g fill="#2467b3"><path d="M0.8 6.3h6.300V3.100l6.300 4.500-6.300 4.500V8.900H0.800z"/><path d="M23.200 15.100h-6.300v-3.200l-6.300 4.500 6.300 4.500v-3.200h6.300z"/></g></svg>
<span class="t" style="left:763.7px;top:13px;font-size:11.5px;color:#2b6cb7;letter-spacing:-0.018px;-webkit-text-stroke:0.2px #2b6cb7;">mixed</span>
<div style="left:949px;top:9px;width:144.5999999999999px;height:27.5px;border:1px solid #a9b0f7;border-radius:7px;background:#fff"></div>
<div style="left:1065.6px;top:9px;width:1.0px;height:27.5px;background:#a9b0f7"></div>
<svg style="left:958.1px;top:14.2px" width="17" height="17" viewBox="0 0 24 24"><path fill="#4a42d6" d="M9.200 3.600l2.100 5.500 5.500 2.100-5.500 2.100-2.100 5.500-2.100-5.500-5.500-2.100 5.500-2.100zM18.400 1.800l1 2.600 2.600 1-2.600 1-1 2.600-1-2.600-2.600-1 2.600-1zM18.400 14.600l1 2.600 2.600 1-2.600 1-1 2.600-1-2.600-2.600-1 2.600-1z"/></svg>
<span class="t" style="left:981.1px;top:13px;font-size:11.3px;color:#4338ca;letter-spacing:-0.091px;-webkit-text-stroke:0.3px #4338ca;">Run Summary</span>
<div style="left:1075.4499999999998px;top:21.9px;width:1.900000000000091px;height:1.9000000000000021px;background:#8d93f2;border-radius:50%"></div>
<div style="left:1078.6499999999999px;top:21.9px;width:1.900000000000091px;height:1.9000000000000021px;background:#8d93f2;border-radius:50%"></div>
<div style="left:1081.85px;top:21.9px;width:1.900000000000091px;height:1.9000000000000021px;background:#8d93f2;border-radius:50%"></div>
<div style="left:1103px;top:9px;width:79.20000000000005px;height:27.5px;background:#6366f1;border-radius:7px"></div>
<svg style="left:1113.7px;top:15.3px" width="14.6" height="14.6" viewBox="0 0 24 24"><g fill="#fff"><rect x="1.500" y="2" width="3.200" height="20"/><rect x="1.500" y="18.800" width="21" height="3.200"/><rect x="7.400" y="8.500" width="3.600" height="8.500"/><rect x="12.800" y="3.500" width="3.600" height="13.500"/><rect x="18.200" y="11.500" width="3.600" height="5.500"/></g></svg>
<span class="t" style="left:1135.1px;top:13px;font-size:11.3px;color:#fff;letter-spacing:-0.037px;-webkit-text-stroke:0.3px #fff;">Report</span>
<div style="left:1190px;top:6.2px;width:32px;height:32.599999999999994px;background:#f4f4f5;border:2px solid #4a47d8;border-radius:9px;box-shadow:inset 0 0 0 1.5px #fff"></div>
<div style="left:1200.8px;top:21.7px;width:2.199999999999818px;height:2.1999999999999993px;background:#1f2430;border-radius:50%"></div>
<div style="left:1204.5px;top:21.7px;width:2.199999999999818px;height:2.1999999999999993px;background:#1f2430;border-radius:50%"></div>
<div style="left:1208.2px;top:21.7px;width:2.199999999999818px;height:2.1999999999999993px;background:#1f2430;border-radius:50%"></div>
<svg style="left:1234.45px;top:15.25px" width="15.5" height="15.5" viewBox="0 0 24 24"><path fill="#2b2b2b"  d="M19 6.41L17.59 5 12 10.59 6.41 5 5 6.41 10.59 12 5 17.59 6.41 19 12 13.41 17.59 19 19 17.59 13.41 12z"/></svg>
<span class="t" style="left:534.6px;top:61px;font-size:16px;color:#2c3547;letter-spacing:0.033px;-webkit-text-stroke:0.8px #2c3547;">Manual &amp; automated run (Relaunch)</span>
<span class="t" style="left:534px;top:89px;font-size:11.4px;color:#555b66;letter-spacing:0.017px;-webkit-text-stroke:0.3px #555b66;">Set labels</span>
<div style="left:534px;top:105.1px;width:50.200000000000045px;height:1.3000000000000114px;background:#70757f"></div>
<svg style="left:0;top:0" width="1279" height="300" viewBox="0 0 1279 300"><path d="M675.10 117.70A70 70 0 1 1 668.51 257.39L672.09 219.56A32 32 0 1 0 675.10 155.70Z" fill="#48b878" stroke="#fff" stroke-width="1.3" stroke-linejoin="round"/><path d="M668.51 257.39A70 70 0 0 1 637.22 128.83L657.78 160.79A32 32 0 0 0 672.09 219.56Z" fill="#e86063" stroke="#fff" stroke-width="1.3" stroke-linejoin="round"/><path d="M637.22 128.83A70 70 0 0 1 675.10 117.70L675.10 155.70A32 32 0 0 0 657.78 160.79Z" fill="#ecc64a" stroke="#fff" stroke-width="1.3" stroke-linejoin="round"/></svg>
<span class="t" style="left:650.3px;top:126px;font-size:9.4px;color:#fff;font-weight:700;letter-spacing:-0.069px;text-shadow:0 0 2px rgba(0,0,0,.75),0 0 1px rgba(0,0,0,.9);">9.1%</span>
<span class="t" style="left:712.9px;top:178px;font-size:9.4px;color:#fff;font-weight:700;letter-spacing:0.021px;text-shadow:0 0 2px rgba(0,0,0,.75),0 0 1px rgba(0,0,0,.9);">51.5%</span>
<span class="t" style="left:612.2px;top:187px;font-size:9.4px;color:#fff;font-weight:700;letter-spacing:0.001px;text-shadow:0 0 2px rgba(0,0,0,.75),0 0 1px rgba(0,0,0,.9);">39.4%</span>
<div style="left:826.3px;top:133.20000000000002px;width:9.200000000000045px;height:9.199999999999989px;background:#48b878;border-radius:50%"></div>
<span class="t" style="left:838.3px;top:130px;font-size:9.2px;color:#444;letter-spacing:-0.026px;">Passed</span>
<div style="left:826.3px;top:151.5px;width:9.200000000000045px;height:9.199999999999989px;background:#e86063;border-radius:50%"></div>
<span class="t" style="left:838.3px;top:148px;font-size:9.2px;color:#444;letter-spacing:-0.005px;">Failed</span>
<div style="left:826.3px;top:169.6px;width:9.200000000000045px;height:9.199999999999989px;background:#ecc64a;border-radius:50%"></div>
<span class="t" style="left:838.3px;top:166px;font-size:9.2px;color:#444;letter-spacing:-0.029px;">Skipped</span>
<div style="left:826.3px;top:188.1px;width:9.200000000000045px;height:9.199999999999989px;background:#666e7e;border-radius:50%"></div>
<span class="t" style="left:838.3px;top:184px;font-size:9.2px;color:#444;letter-spacing:0.012px;">Pending</span>
<div style="left:899.8px;top:122.6px;width:353.20000000000005px;height:31.200000000000017px;background:#f3f6fe"></div>
<div style="left:899.8px;top:184.5px;width:353.20000000000005px;height:31.099999999999994px;background:#f3f6fe"></div>
<div style="left:899.8px;top:253px;width:353.20000000000005px;height:30.5px;background:#f3f6fe"></div>
<div style="left:899.8px;top:330px;width:353.20000000000005px;height:30.399999999999977px;background:#f3f6fe"></div>
<div style="left:899.8px;top:392.2px;width:353.20000000000005px;height:30.0px;background:#f3f6fe"></div>
<span class="t" style="left:912.5px;top:127px;font-size:11.4px;color:#566072;letter-spacing:-0.016px;">Status</span>
<span class="t" style="left:912.5px;top:158px;font-size:11.4px;color:#566072;letter-spacing:0.067px;">Duration</span>
<span class="t" style="left:912.5px;top:189px;font-size:11.4px;color:#566072;letter-spacing:0.141px;">Tests</span>
<span class="t" style="left:912.5px;top:219px;font-size:11.4px;color:#566072;letter-spacing:0.059px;">Environment</span>
<span class="t" style="left:912.5px;top:256px;font-size:11.4px;color:#566072;letter-spacing:-0.040px;">Test Plan</span>
<span class="t" style="left:912.5px;top:288px;font-size:11.4px;color:#566072;letter-spacing:0.013px;">Executed</span>
<span class="t" style="left:912.5px;top:334px;font-size:11.4px;color:#566072;letter-spacing:-0.265px;">Build URL</span>
<span class="t" style="left:912.5px;top:365px;font-size:11.4px;color:#566072;letter-spacing:0.019px;">Executed by</span>
<span class="t" style="left:912.5px;top:396px;font-size:11.4px;color:#566072;letter-spacing:-0.012px;">Created by</span>
<span class="t" style="left:1218.9px;top:337px;font-size:11.4px;color:#3f4859;letter-spacing:0.032px;-webkit-text-stroke:0.2px #3f4859;">/Loa</span>
<div style="left:1205px;top:352.5px;width:36.200000000000045px;height:1.0px;background:#3f4859"></div>
<div style="left:1256.6px;top:58.5px;width:3.800000000000182px;height:388.1px;background:#c7d0fb;border-radius:2px"></div>
<div style="left:534px;top:468.4px;width:722.5999999999999px;height:1.0px;background:#e6e7ea"></div>
<span class="t" style="left:534.2px;top:442px;font-size:13.4px;color:#5558ea;letter-spacing:-0.013px;-webkit-text-stroke:0.25px #5558ea;">Tests</span>
<span class="t" style="left:584.1px;top:442px;font-size:13.4px;color:#6b7280;letter-spacing:-0.008px;-webkit-text-stroke:0.2px #6b7280;">Statistics</span>
<span class="t" style="left:656.7px;top:442px;font-size:13.4px;color:#6b7280;letter-spacing:-0.129px;-webkit-text-stroke:0.2px #6b7280;">Defects</span>
<div style="left:534px;top:467.2px;width:31.600000000000023px;height:2.1999999999999886px;background:#5558ea"></div>
<div style="left:534.2px;top:478.8px;width:84.69999999999993px;height:24.0px;background:#fafafa;border:1px solid #d9dade;border-radius:7px"></div>
<span class="t" style="left:544.1px;top:481px;font-size:11.4px;color:#3a4252;letter-spacing:-0.117px;-webkit-text-stroke:0.3px #3a4252;">Passed</span>
<div style="left:588.3px;top:483.6px;width:20.700000000000045px;height:14.799999999999955px;background:#d3f7e3;border-radius:5px"></div>
<span class="t" style="left:593.05px;top:482px;font-size:10.1px;color:#0d7a55;letter-spacing:-0.017px;-webkit-text-stroke:0.2px #0d7a55;">17</span>
<div style="left:625.4px;top:478.8px;width:78.80000000000007px;height:24.0px;background:#fafafa;border:1px solid #d9dade;border-radius:7px"></div>
<span class="t" style="left:635.5px;top:481px;font-size:11.4px;color:#3a4252;letter-spacing:-0.089px;-webkit-text-stroke:0.3px #3a4252;">Failed</span>
<div style="left:672.5px;top:483.6px;width:21.399999999999977px;height:14.799999999999955px;background:#fde0e1;border-radius:5px"></div>
<span class="t" style="left:677.6px;top:482px;font-size:10.1px;color:#b4232a;letter-spacing:-0.017px;-webkit-text-stroke:0.2px #b4232a;">13</span>
<div style="left:711px;top:478.8px;width:85.70000000000005px;height:24.0px;background:#fafafa;border:1px solid #d9dade;border-radius:7px"></div>
<span class="t" style="left:720.8px;top:481px;font-size:11.4px;color:#3a4252;letter-spacing:0.075px;-webkit-text-stroke:0.3px #3a4252;">Skipped</span>
<div style="left:769.4px;top:483.6px;width:17.5px;height:14.799999999999955px;background:#fdecc2;border-radius:5px"></div>
<span class="t" style="left:775.35px;top:482px;font-size:10.1px;color:#a8530f;letter-spacing:-0.025px;-webkit-text-stroke:0.2px #a8530f;">3</span>
<div style="left:803.1px;top:478.8px;width:86.89999999999998px;height:24.0px;background:#fafafa;border:1px solid #d9dade;border-radius:7px"></div>
<span class="t" style="left:813.4px;top:481px;font-size:11.4px;color:#3a4252;letter-spacing:0.012px;-webkit-text-stroke:0.3px #3a4252;">Pending</span>
<div style="left:862.2px;top:483.6px;width:17.5px;height:14.799999999999955px;background:#f1f2f4;border-radius:5px"></div>
<span class="t" style="left:868.15px;top:482px;font-size:10.1px;color:#3a4252;letter-spacing:-0.025px;-webkit-text-stroke:0.2px #3a4252;">0</span>
<div style="left:896.5px;top:478.8px;width:24.100000000000023px;height:24.0px;background:#fafafa;border:1px solid #d9dade;border-radius:7px"></div>
<div style="left:902.6px;top:484.8px;width:12.0px;height:12.0px;background:#fff0c6;border-radius:4px"></div>
<svg style="left:903.8px;top:486.0px" width="9.6" height="9.6" viewBox="0 0 24 24"><path fill="#b74a06" d="M11.800 12.200l10.400 3.800-4 1.600 4.300 4.300-1.900 1.900-4.300-4.300-1.600 4z"/><g stroke="#cf8a3c" stroke-width="3.100"><path d="M11.600 2v3.200M4.400 4.600l2.300 2.300M18.900 4.600l-2.300 2.300M1.500 11.500h3.200M4.300 18.600l2.300-2.300"/></g></svg>
<div style="left:927.2px;top:478.8px;width:24.699999999999932px;height:24.0px;background:#fafafa;border:1px solid #d9dade;border-radius:7px"></div>
<svg style="left:934.0px;top:485.2px" width="11.4" height="11.4" viewBox="0 0 24 24"><g fill="none" stroke="#7a3be6" stroke-width="2.2" stroke-linecap="round"><path d="M10.200 21.300A9.800 9.800 0 1 1 21.300 10.600"/><path d="M8.200 16.400A5.500 5.500 0 1 1 16.600 9.200"/></g><path fill="#4f14cf" d="M11.400 11.400l10.800 4-4.300 1.700 4.600 4.600-1.800 1.800-4.600-4.600-1.700 4.300z"/></svg>
<div style="left:958px;top:478.8px;width:60px;height:24.0px;background:#fafafa;border:1px solid #d9dade;border-radius:7px"></div>
<svg style="left:965.35px;top:484.85px" width="11.5" height="11.5" viewBox="0 0 24 24"><path d="M3.2 3.500h17.600v13.200H9.200L3.200 21.200z" fill="none" stroke="#2b3240" stroke-width="2.100" stroke-linejoin="round"/><rect x="11" y="6.200" width="2.100" height="4.800" fill="#2b3240"/><rect x="11" y="12.300" width="2.100" height="2.100" fill="#2b3240"/></svg>
<div style="left:990.2px;top:483.6px;width:17.5px;height:14.799999999999955px;background:#f1f2f4;border-radius:5px"></div>
<span class="t" style="left:996.15px;top:482px;font-size:10.1px;color:#3a4252;letter-spacing:-0.025px;-webkit-text-stroke:0.2px #3a4252;">8</span>
<div style="left:1027.1px;top:479.2px;width:23.200000000000045px;height:23.19999999999999px;background:#222;border-radius:50%"></div>
<svg style="left:1031.73px;top:482.44px" width="15.93" height="15.93" viewBox="0 -1 16 16"><path fill="#fff" d="M0.700 0h8.100a0.600 0.600 0 0 1 0.600 0.600V13.300a0.750 0.750 0 0 1-0.750 0.750H5.700a0.750 0.750 0 0 1-0.750-0.750V4.375H0.700a0.700 0.700 0 0 1-0.700-0.700V0.700a0.700 0.700 0 0 1 0.700-0.700z"/><rect x="9.750" y="-0.100" width="1.400" height="7.100" fill="#4f7df5"/><rect x="11.900" y="0.200" width="1.550" height="3.500" rx="0.400" fill="#fff"/></svg>
<div style="left:534.2px;top:512.6px;width:169.19999999999993px;height:24.199999999999932px;border:1px solid #d3d8e6;border-radius:6px;background:#fff"></div>
<svg style="left:543.15px;top:517.75px" width="14.5" height="14.5" viewBox="0 0 24 24"><path fill="#9aa0b1"  d="M15.5 14h-.79l-.28-.27C15.41 12.59 16 11.11 16 9.5 16 5.91 13.09 3 9.5 3S3 5.91 3 9.5 5.91 16 9.5 16c1.61 0 3.09-.59 4.23-1.57l.27.28v.79l5 4.99L20.49 19l-4.99-5zm-6 0C7.01 14 5 11.99 5 9.5S7.01 5 9.5 5 14 7.01 14 9.5 11.99 14 9.5 14z"/></svg>
<div style="left:565.5px;top:514px;width:118.300px;height:21px;overflow:hidden"><span class="t" style="left:0;top:0.600px;font-size:11.5px;color:#8b90a2;letter-spacing:0.02px">Search by title/message</span></div>
<div style="left:1044.4px;top:512.6px;width:72.0px;height:24.199999999999932px;background:#fafafa;border:1px solid #d9dade;border-radius:7px 0 0 7px"></div>
<div style="left:1115.4px;top:512.6px;width:25.59999999999991px;height:24.199999999999932px;background:#fff;border:1px solid #ececef;border-left:1px solid #d9dade;border-radius:0 7px 7px 0"></div>
<svg style="left:1051.25px;top:519.05px" width="11.5" height="11.5" viewBox="0 0 24 24"><g fill="#2b3240"><path d="M7.500 2.500l4.700 5.400H9v6.600H6V7.900H2.800z"/><path d="M16.500 21.500l-4.700-5.400H15V9.500h3v6.600h3.200z"/></g></svg>
<span class="t" style="left:1069.4px;top:515px;font-size:11.5px;color:#2f3746;letter-spacing:0.027px;-webkit-text-stroke:0.3px #2f3746;">Sort</span>
<svg style="left:1097.05px;top:520.45px" width="9.5" height="9.5" viewBox="0 0 24 24"><path d="M4 8l8 8.500 8-8.500" fill="none" stroke="#2f3746" stroke-width="3"/></svg>
<svg style="left:1122.55px;top:519.25px" width="11.5" height="11.5" viewBox="0 0 24 24"><path fill="#b3b7c0"  d="M11,4H13V16L18.5,10.5L19.92,11.92L12,19.84L4.08,11.92L5.5,10.5L11,16V4Z"/></svg>
<div style="left:1150.4px;top:512.6px;width:75.29999999999995px;height:24.199999999999932px;background:#fafafa;border:1px solid #d9dade;border-radius:7px"></div>
<svg style="left:1157.3px;top:519.0px" width="11.8" height="11.8" viewBox="0 0 24 24"><rect x="3" y="4.500" width="18" height="15" rx="2" fill="none" stroke="#2b3240" stroke-width="2.300"/><path d="M3 11.500h18M10.500 5v14" stroke="#2b3240" stroke-width="2.300"/></svg>
<span class="t" style="left:1176px;top:515px;font-size:11.5px;color:#2f3746;letter-spacing:-0.021px;-webkit-text-stroke:0.3px #2f3746;">Custom</span>
<div style="left:1229.2px;top:512.6px;width:23.899999999999864px;height:24.199999999999932px;background:#fff;border:1px solid #efeff1;border-radius:7px"></div>
<svg style="left:1234.95px;top:518.55px" width="12.5" height="12.5" viewBox="0 0 24 24"><g fill="none" stroke="#b3b7c0" stroke-width="1.900" stroke-linecap="round"><path d="M3 7.500h10M18.500 7.500H21M3 16.500h2.500M11 16.500h10"/><circle cx="15.700" cy="7.500" r="2.700"/><circle cx="8.200" cy="16.500" r="2.700"/></g></svg>
<svg style="left:537.6px;top:558.7px" width="9.4" height="9.4" viewBox="0 0 24 24"><circle cx="12" cy="12" r="12" fill="#18b07b"/><path d="M6.3 12.4l3.7 3.7 7.4-7.6" fill="none" stroke="#fff" stroke-width="2.8" stroke-linecap="round" stroke-linejoin="round"/></svg>
<svg style="left:554.5px;top:555.9px" width="14.2" height="14.2" viewBox="0 0 24 24"><g fill="none" stroke="#5b6475" stroke-width="1.800" stroke-linejoin="round"><path d="M8.500 4.500H5.200a1 1 0 0 0-1 1V21a1 1 0 0 0 1 1h13.600a1 1 0 0 0 1-1V5.500a1 1 0 0 0-1-1H15.500"/><rect x="8.500" y="2.200" width="7" height="4.300" rx="1"/><path d="M11.500 11h5M11.500 14.500h5M11.500 18h5"/></g><g fill="#5b6475"><rect x="7" y="10" width="2.200" height="2"/><rect x="7" y="13.500" width="2.200" height="2"/><rect x="7" y="17" width="2.200" height="2"/></g></svg>
<span class="t m" style="left:575.8px;top:554px;font-size:11.1px;color:#838a9b;letter-spacing:0.021px;-webkit-text-stroke:0.15px #838a9b;">Shopping Cart…</span>
<div style="left:684.6px;top:555.6px;width:15.199999999999932px;height:15.199999999999932px;background:#fff0c6;border-radius:4px"></div>
<svg style="left:686.4px;top:557.4px" width="11.6" height="11.6" viewBox="0 0 24 24"><path fill="#b74a06" d="M11.800 12.200l10.400 3.800-4 1.600 4.300 4.300-1.900 1.900-4.300-4.300-1.600 4z"/><g stroke="#cf8a3c" stroke-width="3.100"><path d="M11.600 2v3.200M4.400 4.600l2.300 2.300M18.900 4.600l-2.300 2.300M1.500 11.500h3.200M4.300 18.600l2.300-2.300"/></g></svg>
<span class="t" style="left:703.8px;top:554px;font-size:13.1px;color:#1f2430;letter-spacing:0.000px;">Add a single item to the shopping cart</span>
<div style="left:928.9px;top:555.9px;width:15.399999999999977px;height:15.399999999999977px;background:#222;border-radius:50%"></div>
<svg style="left:931.97px;top:558.05px" width="10.58" height="10.58" viewBox="0 -1 16 16"><path fill="#fff" d="M0.700 0h8.100a0.600 0.600 0 0 1 0.600 0.600V13.300a0.750 0.750 0 0 1-0.750 0.750H5.700a0.750 0.750 0 0 1-0.750-0.750V4.375H0.700a0.700 0.700 0 0 1-0.700-0.700V0.700a0.700 0.700 0 0 1 0.700-0.700z"/><rect x="9.750" y="-0.100" width="1.400" height="7.100" fill="#4f7df5"/><rect x="11.900" y="0.200" width="1.550" height="3.500" rx="0.400" fill="#fff"/></svg>
<div style="left:950.8px;top:557.0999999999999px;width:63.0px;height:14.0px;background:#e8e9ed;border-radius:7px"></div>
<span class="t" style="left:956.9px;top:555px;font-size:9.6px;color:#6b7384;letter-spacing:-0.001px;">@user_flow</span>
<svg style="left:537.6px;top:589.3px" width="9.4" height="9.4" viewBox="0 0 24 24"><circle cx="12" cy="12" r="12" fill="#18b07b"/><path d="M6.3 12.4l3.7 3.7 7.4-7.6" fill="none" stroke="#fff" stroke-width="2.8" stroke-linecap="round" stroke-linejoin="round"/></svg>
<svg style="left:554.5px;top:586.5px" width="14.2" height="14.2" viewBox="0 0 24 24"><g fill="none" stroke="#5b6475" stroke-width="1.800" stroke-linejoin="round"><path d="M8.500 4.500H5.200a1 1 0 0 0-1 1V21a1 1 0 0 0 1 1h13.600a1 1 0 0 0 1-1V5.500a1 1 0 0 0-1-1H15.500"/><rect x="8.500" y="2.200" width="7" height="4.300" rx="1"/><path d="M11.500 11h5M11.500 14.500h5M11.500 18h5"/></g><g fill="#5b6475"><rect x="7" y="10" width="2.200" height="2"/><rect x="7" y="13.500" width="2.200" height="2"/><rect x="7" y="17" width="2.200" height="2"/></g></svg>
<span class="t m" style="left:575.8px;top:584px;font-size:11.1px;color:#838a9b;letter-spacing:0.021px;-webkit-text-stroke:0.15px #838a9b;">Shopping Cart…</span>
<div style="left:684.6px;top:586.2px;width:15.199999999999932px;height:15.199999999999932px;background:#fff0c6;border-radius:4px"></div>
<svg style="left:686.4px;top:588.0px" width="11.6" height="11.6" viewBox="0 0 24 24"><path fill="#b74a06" d="M11.800 12.200l10.400 3.800-4 1.600 4.300 4.300-1.900 1.900-4.300-4.300-1.600 4z"/><g stroke="#cf8a3c" stroke-width="3.100"><path d="M11.600 2v3.200M4.400 4.600l2.300 2.300M18.900 4.600l-2.300 2.300M1.500 11.500h3.200M4.300 18.600l2.300-2.300"/></g></svg>
<span class="t" style="left:703.8px;top:585px;font-size:13.1px;color:#1f2430;letter-spacing:-0.004px;">Shopping with placeholder</span>
<div style="left:863.9px;top:586.5px;width:15.399999999999977px;height:15.399999999999977px;background:#222;border-radius:50%"></div>
<svg style="left:866.97px;top:588.65px" width="10.58" height="10.58" viewBox="0 -1 16 16"><path fill="#fff" d="M0.700 0h8.100a0.600 0.600 0 0 1 0.600 0.600V13.300a0.750 0.750 0 0 1-0.750 0.750H5.700a0.750 0.750 0 0 1-0.750-0.750V4.375H0.700a0.700 0.700 0 0 1-0.700-0.700V0.700a0.700 0.700 0 0 1 0.700-0.700z"/><rect x="9.750" y="-0.100" width="1.400" height="7.100" fill="#4f7df5"/><rect x="11.900" y="0.200" width="1.550" height="3.500" rx="0.400" fill="#fff"/></svg>
<svg style="left:537.6px;top:620.3px" width="9.4" height="9.4" viewBox="0 0 24 24"><circle cx="12" cy="12" r="12" fill="#fbb724"/><circle cx="12" cy="12" r="4.6" fill="#fff"/></svg>
<svg style="left:554.5px;top:617.5px" width="14.2" height="14.2" viewBox="0 0 24 24"><g fill="none" stroke="#5b6475" stroke-width="1.800" stroke-linejoin="round"><path d="M8.500 4.500H5.200a1 1 0 0 0-1 1V21a1 1 0 0 0 1 1h13.600a1 1 0 0 0 1-1V5.500a1 1 0 0 0-1-1H15.500"/><rect x="8.500" y="2.200" width="7" height="4.300" rx="1"/><path d="M11.500 11h5M11.500 14.500h5M11.500 18h5"/></g><g fill="#5b6475"><rect x="7" y="10" width="2.200" height="2"/><rect x="7" y="13.500" width="2.200" height="2"/><rect x="7" y="17" width="2.200" height="2"/></g></svg>
<span class="t m" style="left:575.8px;top:615px;font-size:11.1px;color:#838a9b;letter-spacing:0.021px;-webkit-text-stroke:0.15px #838a9b;">Shopping Cart…</span>
<div style="left:684.6px;top:617.2px;width:15.199999999999932px;height:15.199999999999932px;background:#fff0c6;border-radius:4px"></div>
<svg style="left:686.4px;top:619.0px" width="11.6" height="11.6" viewBox="0 0 24 24"><path fill="#b74a06" d="M11.800 12.200l10.400 3.800-4 1.600 4.300 4.300-1.900 1.900-4.300-4.300-1.600 4z"/><g stroke="#cf8a3c" stroke-width="3.100"><path d="M11.600 2v3.200M4.400 4.600l2.300 2.300M18.900 4.600l-2.300 2.300M1.500 11.500h3.200M4.300 18.600l2.300-2.300"/></g></svg>
<span class="t" style="left:703.8px;top:616px;font-size:13.1px;color:#1f2430;letter-spacing:-0.004px;">Shopping with placeholder</span>
<div style="left:863.9px;top:617.5px;width:15.399999999999977px;height:15.399999999999977px;background:#222;border-radius:50%"></div>
<svg style="left:866.97px;top:619.65px" width="10.58" height="10.58" viewBox="0 -1 16 16"><path fill="#fff" d="M0.700 0h8.100a0.600 0.600 0 0 1 0.600 0.600V13.300a0.750 0.750 0 0 1-0.750 0.750H5.700a0.750 0.750 0 0 1-0.750-0.750V4.375H0.700a0.700 0.700 0 0 1-0.700-0.700V0.700a0.700 0.700 0 0 1 0.700-0.700z"/><rect x="9.750" y="-0.100" width="1.400" height="7.100" fill="#4f7df5"/><rect x="11.900" y="0.200" width="1.550" height="3.500" rx="0.400" fill="#fff"/></svg>
<svg style="left:537.6px;top:651.2px" width="9.4" height="9.4" viewBox="0 0 24 24"><circle cx="12" cy="12" r="12" fill="#fbb724"/><circle cx="12" cy="12" r="4.6" fill="#fff"/></svg>
<svg style="left:554.5px;top:648.4px" width="14.2" height="14.2" viewBox="0 0 24 24"><g fill="none" stroke="#5b6475" stroke-width="1.800" stroke-linejoin="round"><path d="M8.500 4.500H5.200a1 1 0 0 0-1 1V21a1 1 0 0 0 1 1h13.600a1 1 0 0 0 1-1V5.500a1 1 0 0 0-1-1H15.500"/><rect x="8.500" y="2.200" width="7" height="4.300" rx="1"/><path d="M11.500 11h5M11.500 14.500h5M11.500 18h5"/></g><g fill="#5b6475"><rect x="7" y="10" width="2.200" height="2"/><rect x="7" y="13.500" width="2.200" height="2"/><rect x="7" y="17" width="2.200" height="2"/></g></svg>
<span class="t m" style="left:575.8px;top:646px;font-size:11.1px;color:#838a9b;letter-spacing:0.021px;-webkit-text-stroke:0.15px #838a9b;">Shopping Cart…</span>
<div style="left:684.6px;top:648.1px;width:15.199999999999932px;height:15.199999999999932px;background:#fff0c6;border-radius:4px"></div>
<svg style="left:686.4px;top:649.9px" width="11.6" height="11.6" viewBox="0 0 24 24"><path fill="#b74a06" d="M11.800 12.200l10.400 3.800-4 1.600 4.300 4.300-1.900 1.900-4.300-4.300-1.600 4z"/><g stroke="#cf8a3c" stroke-width="3.100"><path d="M11.600 2v3.200M4.400 4.600l2.300 2.300M18.900 4.600l-2.300 2.300M1.500 11.500h3.200M4.300 18.600l2.300-2.300"/></g></svg>
<span class="t" style="left:703.8px;top:646px;font-size:13.1px;color:#1f2430;letter-spacing:0.042px;">Add multiple different items to the shopping cart</span>
<div style="left:988.6px;top:648.4px;width:15.399999999999977px;height:15.399999999999977px;background:#222;border-radius:50%"></div>
<svg style="left:991.67px;top:650.55px" width="10.58" height="10.58" viewBox="0 -1 16 16"><path fill="#fff" d="M0.700 0h8.100a0.600 0.600 0 0 1 0.600 0.600V13.300a0.750 0.750 0 0 1-0.750 0.750H5.700a0.750 0.750 0 0 1-0.750-0.750V4.375H0.700a0.700 0.700 0 0 1-0.700-0.700V0.700a0.700 0.700 0 0 1 0.700-0.700z"/><rect x="9.750" y="-0.100" width="1.400" height="7.100" fill="#4f7df5"/><rect x="11.900" y="0.200" width="1.550" height="3.500" rx="0.400" fill="#fff"/></svg>
<div style="left:1010.5px;top:649.5999999999999px;width:63.0px;height:14.0px;background:#e8e9ed;border-radius:7px"></div>
<span class="t" style="left:1016.6px;top:647px;font-size:9.6px;color:#6b7384;letter-spacing:-0.001px;">@user_flow</span>
<svg style="left:537.6px;top:682.1px" width="9.4" height="9.4" viewBox="0 0 24 24"><circle cx="12" cy="12" r="12" fill="#fbb724"/><circle cx="12" cy="12" r="4.6" fill="#fff"/></svg>
<svg style="left:554.5px;top:679.3px" width="14.2" height="14.2" viewBox="0 0 24 24"><g fill="none" stroke="#5b6475" stroke-width="1.800" stroke-linejoin="round"><path d="M8.500 4.500H5.200a1 1 0 0 0-1 1V21a1 1 0 0 0 1 1h13.600a1 1 0 0 0 1-1V5.500a1 1 0 0 0-1-1H15.500"/><rect x="8.500" y="2.200" width="7" height="4.300" rx="1"/><path d="M11.500 11h5M11.500 14.500h5M11.500 18h5"/></g><g fill="#5b6475"><rect x="7" y="10" width="2.200" height="2"/><rect x="7" y="13.500" width="2.200" height="2"/><rect x="7" y="17" width="2.200" height="2"/></g></svg>
<span class="t m" style="left:575.8px;top:677px;font-size:11.1px;color:#838a9b;letter-spacing:0.021px;-webkit-text-stroke:0.15px #838a9b;">Shopping Cart…</span>
<div style="left:684.6px;top:679.0px;width:15.199999999999932px;height:15.200000000000045px;background:#fff0c6;border-radius:4px"></div>
<svg style="left:686.4px;top:680.8px" width="11.6" height="11.6" viewBox="0 0 24 24"><path fill="#b74a06" d="M11.800 12.200l10.400 3.800-4 1.600 4.300 4.300-1.900 1.900-4.300-4.300-1.600 4z"/><g stroke="#cf8a3c" stroke-width="3.100"><path d="M11.600 2v3.200M4.400 4.600l2.300 2.300M18.900 4.600l-2.300 2.300M1.500 11.500h3.200M4.300 18.600l2.300-2.300"/></g></svg>
<span class="t" style="left:703.8px;top:677px;font-size:13.1px;color:#1f2430;letter-spacing:-0.050px;">Remove an item from the shopping cart</span>
<div style="left:937.2px;top:679.3px;width:15.399999999999977px;height:15.400000000000091px;background:#222;border-radius:50%"></div>
<svg style="left:940.27px;top:681.45px" width="10.58" height="10.58" viewBox="0 -1 16 16"><path fill="#fff" d="M0.700 0h8.100a0.600 0.600 0 0 1 0.600 0.600V13.300a0.750 0.750 0 0 1-0.750 0.750H5.700a0.750 0.750 0 0 1-0.750-0.750V4.375H0.700a0.700 0.700 0 0 1-0.700-0.700V0.700a0.700 0.700 0 0 1 0.700-0.700z"/><rect x="9.750" y="-0.100" width="1.400" height="7.100" fill="#4f7df5"/><rect x="11.900" y="0.200" width="1.550" height="3.500" rx="0.400" fill="#fff"/></svg>
<div style="left:959.1px;top:680.4999999999999px;width:62.799999999999955px;height:14.0px;background:#e8e9ed;border-radius:7px"></div>
<span class="t" style="left:965.2px;top:678px;font-size:9.6px;color:#6b7384;letter-spacing:-0.021px;">@user_flow</span>
<div style="left:1249.7px;top:546px;width:3.599999999999909px;height:162px;background:#c7d0fb;border-radius:2px"></div>
<div style="left:1022.2px;top:43px;width:196.79999999999995px;height:387.8px;background:#fff;border-radius:8px;box-shadow:0 4px 14px rgba(0,0,0,.13),0 1px 4px rgba(0,0,0,.10),0 0 0 1px rgba(0,0,0,.03)"></div>
<div style="left:1022.2px;top:106.1px;width:196.79999999999995px;height:1.0px;background:#ebecee"></div>
<div style="left:1022.2px;top:336.8px;width:196.79999999999995px;height:1.0px;background:#ebecee"></div>
<div style="left:1022.2px;top:394.6px;width:196.79999999999995px;height:1.0px;background:#ebecee"></div>
<span class="t" style="left:1058.9px;top:53px;font-size:11.3px;color:#3d4556;letter-spacing:-0.103px;-webkit-text-stroke:0.2px #3d4556;">Relaunch Failed</span>
<span class="t" style="left:1058.9px;top:82px;font-size:11.3px;color:#3d4556;letter-spacing:-0.043px;-webkit-text-stroke:0.2px #3d4556;">Relaunch All</span>
<span class="t" style="left:1058.9px;top:111px;font-size:11.3px;color:#3d4556;letter-spacing:0.000px;-webkit-text-stroke:0.2px #3d4556;">Relaunch Manually</span>
<span class="t" style="left:1058.9px;top:140px;font-size:11.3px;color:#3d4556;letter-spacing:0.028px;-webkit-text-stroke:0.2px #3d4556;">Advanced Relaunch</span>
<span class="t" style="left:1058.9px;top:168px;font-size:11.3px;color:#3d4556;letter-spacing:0.039px;-webkit-text-stroke:0.2px #3d4556;">Launch a Copy Manually</span>
<span class="t" style="left:1058.9px;top:197px;font-size:11.3px;color:#3d4556;letter-spacing:0.008px;-webkit-text-stroke:0.2px #3d4556;">Launch a Copy</span>
<span class="t" style="left:1058.9px;top:226px;font-size:11.3px;color:#3d4556;letter-spacing:0.090px;-webkit-text-stroke:0.2px #3d4556;">Archive</span>
<span class="t" style="left:1058.9px;top:255px;font-size:11.3px;color:#3d4556;letter-spacing:-0.243px;-webkit-text-stroke:0.2px #3d4556;">Pin</span>
<span class="t" style="left:1058.9px;top:283px;font-size:11.3px;color:#3d4556;letter-spacing:-0.119px;-webkit-text-stroke:0.2px #3d4556;">Export as PDF</span>
<span class="t" style="left:1058.9px;top:312px;font-size:11.3px;color:#3d4556;letter-spacing:0.069px;-webkit-text-stroke:0.2px #3d4556;">Move</span>
<span class="t" style="left:1058.9px;top:342px;font-size:11.3px;color:#3d4556;letter-spacing:-0.049px;-webkit-text-stroke:0.2px #3d4556;">Labels</span>
<span class="t" style="left:1058.9px;top:370px;font-size:11.3px;color:#3d4556;letter-spacing:0.036px;-webkit-text-stroke:0.2px #3d4556;">Link to Issue</span>
<span class="t" style="left:1058.9px;top:400px;font-size:11.3px;color:#3d4556;letter-spacing:-0.004px;-webkit-text-stroke:0.2px #3d4556;">Details</span>
<svg style="left:1034.6px;top:56.2px" width="14.4" height="14.4" viewBox="0 0 24 24"><g fill="none" stroke="#2b3240"><path stroke-width="2.200" d="M7.300 3.500A10 10 0 1 1 2.600 9.200"/><circle cx="12.300" cy="12.600" r="5.300" stroke-width="2.700"/></g><path fill="#2b3240" d="M10.700 9.900v5.400l4.300-2.700z"/><circle cx="2.700" cy="5.800" r="1.350" fill="#2b3240"/><circle cx="5.200" cy="2.600" r="1.350" fill="#2b3240"/></svg>
<svg style="left:1034.6px;top:85.2px" width="14.4" height="14.4" viewBox="0 0 24 24"><path fill="none" stroke="#2b3240" stroke-width="2.200" d="M8.300 3A10 10 0 1 1 2.500 9.600"/><path fill="#2b3240" d="M9.600 7.600v10l7.600-5z"/><circle cx="2.900" cy="6.200" r="1.350" fill="#2b3240"/><circle cx="5.600" cy="3" r="1.350" fill="#2b3240"/></svg>
<svg style="left:1034.5px;top:114.2px" width="15" height="15" viewBox="0 0 24 24"><path fill="none" stroke="#2b3240" stroke-width="3" stroke-linecap="round" d="M2.400 16.800C5.200 10.600 12.200 8.400 17.800 12.200"/><path fill="#2b3240" d="M22.600 7v10.200H12.400z"/></svg>
<svg style="left:1033.85px;top:142.15px" width="15.7" height="15.7" viewBox="0 0 24 24"><path fill="#2b3240"  d="M10 16.5l6-4.5-6-4.5v9zM12 2C6.48 2 2 6.48 2 12s4.48 10 10 10 10-4.48 10-10S17.52 2 12 2zm0 18c-4.41 0-8-3.59-8-8s3.59-8 8-8 8 3.59 8 8-3.59 8-8 8z"/></svg>
<svg style="left:1034.5px;top:170.6px" width="15.6" height="15.6" viewBox="0 0 24 24"><path fill="#2b3240"  d="M8,5.14V19.14L19,12.14L8,5.14Z"/></svg>
<svg style="left:1033.95px;top:199.75px" width="15.5" height="15.5" viewBox="0 0 24 24"><path fill="#2b3240"  d="M16 1H4c-1.1 0-2 .9-2 2v14h2V3h12V1zm3 4H8c-1.1 0-2 .9-2 2v14c0 1.1.9 2 2 2h11c1.1 0 2-.9 2-2V7c0-1.1-.9-2-2-2zm0 16H8V7h11v14z"/></svg>
<svg style="left:1034.0px;top:228.5px" width="15.4" height="15.4" viewBox="0 0 24 24"><path fill="#2b3240"  d="M3,3H21V7H3V3M4,8H20V21H4V8M9.5,11A0.5,0.5 0 0,0 9,11.5V13H15V11.5A0.5,0.5 0 0,0 14.5,11H9.5Z"/></svg>
<svg style="left:1034.1px;top:257.6px" width="15.2" height="15.2" viewBox="0 0 24 24"><path fill="#2b3240"  d="M16,12V4H17V2H7V4H8V12L6,14V16H11.2V22H12.8V16H18V14L16,12Z"/></svg>
<svg style="left:1034.3px;top:286.0px" width="14.8" height="14.8" viewBox="0 0 24 24"><rect x="2.500" y="4" width="19" height="16" rx="2.200" fill="#2b3240"/><g fill="#fff"><path d="M5.300 9h2.600a1.600 1.600 0 0 1 0 3.400H6.700V15H5.300zM6.700 10.200v1h1a.5.500 0 0 0 0-1z" fill-rule="evenodd"/><path d="M10.500 9h2.200a3 3 0 0 1 0 6h-2.200zM11.900 10.300v3.400h.7a1.700 1.700 0 0 0 0-3.400z" fill-rule="evenodd"/><path d="M15.800 9h3.200v1.300h-1.800v1.100h1.600v1.200h-1.600V15h-1.400z"/></g></svg>
<svg style="left:1033.9px;top:314.6px" width="15.6" height="15.6" viewBox="0 0 24 24"><path fill="#2b3240"  d="M4,11V13H16L10.5,18.5L11.92,19.92L19.84,12L11.92,4.08L10.5,5.5L16,11H4Z"/></svg>
<svg style="left:1033.8px;top:344.3px" width="15.4" height="15.4" viewBox="0 0 24 24"><path fill="none" stroke="#2b3240" stroke-width="2" stroke-linejoin="round" d="M2.600 4.200h7.800l10.800 8.600-6.400 8L2.600 12z" transform="rotate(6 12 12)"/><path d="M7.200 8.400l4.400 3.600M9.400 6.800l4.400 3.600" stroke="#2b3240" stroke-width="1.400" transform="rotate(6 12 12)"/></svg>
<svg style="left:1033.6px;top:372.5px" width="16.2" height="16.2" viewBox="0 0 24 24"><path fill="#2b3240"  d="M19,13H13V19H11V13H5V11H11V5H13V11H19V13Z"/></svg>
<svg style="left:1034.6px;top:402.8px" width="14.2" height="14.2" viewBox="0 0 24 24"><g fill="#2b3240"><rect x="2.500" y="4" width="3.400" height="3.400"/><rect x="2.500" y="10.300" width="3.400" height="3.400"/><rect x="2.500" y="16.600" width="3.400" height="3.400"/><rect x="8.500" y="4.600" width="13.500" height="2.200"/><rect x="8.500" y="10.900" width="13.500" height="2.200"/><rect x="8.500" y="17.200" width="13.500" height="2.200"/></g></svg>
<div style="left:3.5px;top:80.5px;width:43.3px;height:36.3px;border:2px solid #ee2b3b"></div>
<div style="left:33.8px;top:106.8px;width:16.400000000000006px;height:16.400000000000006px;background:#ee2b3b;border-radius:50%"></div>
<span class="t" style="left:38.7px;top:106px;font-size:12px;color:#fff;font-weight:700;letter-spacing:0.112px;">1</span>
<div style="left:100px;top:476.8px;width:390px;height:30.0px;border:2px solid #ee2b3b"></div>
<div style="left:1185.1px;top:2.2px;width:41.700000000000045px;height:41.599999999999994px;border:2px solid #ee2b3b"></div>
<div style="left:1217.1px;top:33.4px;width:16.40000000000009px;height:16.4px;background:#ee2b3b;border-radius:50%"></div>
<span class="t" style="left:1222.0px;top:32px;font-size:12px;color:#fff;font-weight:700;letter-spacing:0.112px;">2</span>
<div style="left:1020.2px;top:137px;width:173.79999999999995px;height:24.900000000000006px;border:2px solid #ee2b3b"></div>
<div style="left:1184.6px;top:150.7px;width:16.40000000000009px;height:16.400000000000006px;background:#ee2b3b;border-radius:50%"></div>
<span class="t" style="left:1189.5px;top:149px;font-size:12px;color:#fff;font-weight:700;letter-spacing:0.112px;">3</span>
<div style="left:0px;top:0px;width:1279px;height:1px;background:#e6e6e6"></div>
</div></body></html>
